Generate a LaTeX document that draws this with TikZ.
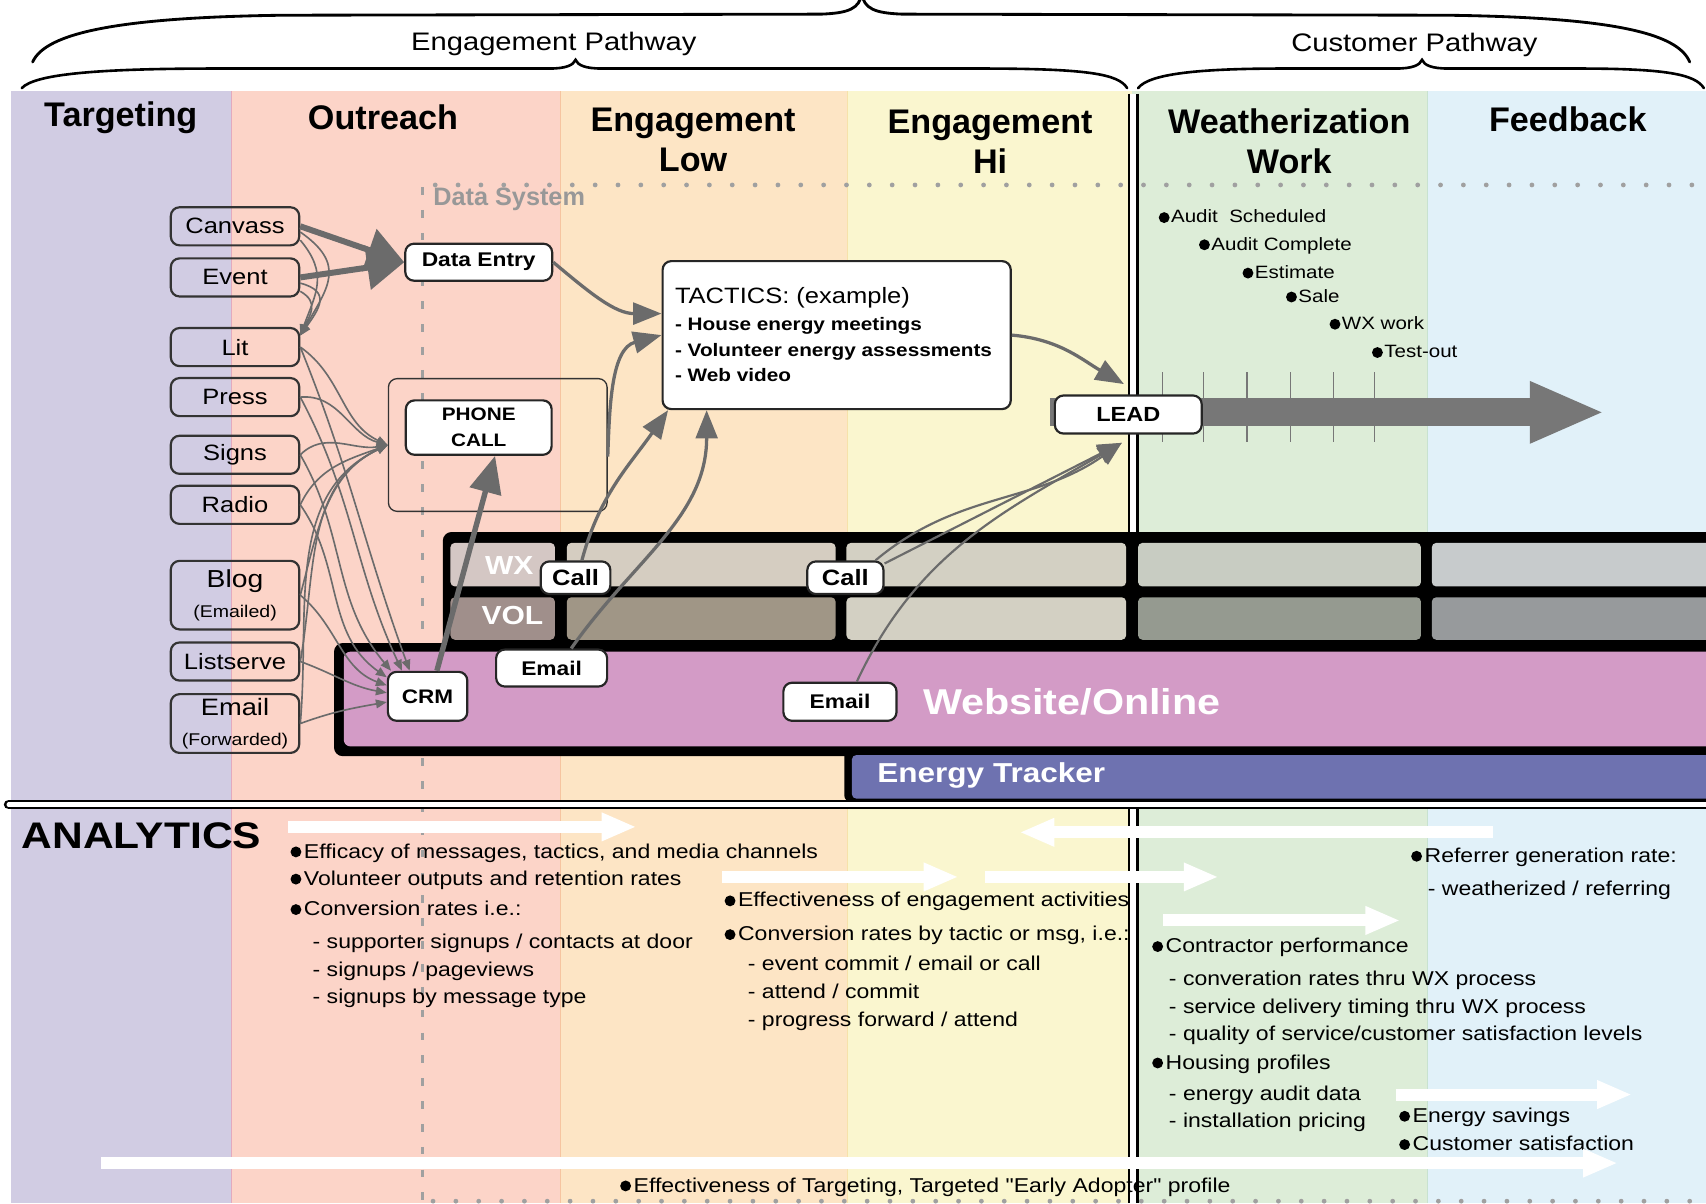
\documentclass[tikz,border=0pt]{standalone}
\usepackage{fontspec}
\setmainfont{Liberation Sans}
\newfontfamily\wf{Liberation Sans}[FakeStretch=1.15]
\usetikzlibrary{arrows.meta}

\definecolor{colTarget}{HTML}{D1CCE3}
\definecolor{colOutreach}{HTML}{FCD4C8}
\definecolor{colEngLow}{HTML}{FDE5C5}
\definecolor{colEngHi}{HTML}{FAF6CF}
\definecolor{colWork}{HTML}{DDEDD8}
\definecolor{colFeed}{HTML}{E1F1F9}
\definecolor{colArrow}{HTML}{6B6B6B}
\definecolor{colFlow}{HTML}{777777}
\definecolor{colDots}{HTML}{A0A0A0}
\definecolor{colWeb}{HTML}{D39BC6}
\definecolor{colTracker}{HTML}{6E72B0}
\definecolor{wxA}{HTML}{D4C7C4}
\definecolor{wxB}{HTML}{D5CDC1}
\definecolor{wxC}{HTML}{D3D0C3}
\definecolor{wxD}{HTML}{C8CCC2}
\definecolor{wxE}{HTML}{C7CBCC}
\definecolor{volA}{HTML}{A08F8B}
\definecolor{volB}{HTML}{A09686}
\definecolor{volC}{HTML}{D3D0C3}
\definecolor{volD}{HTML}{959A90}
\definecolor{volE}{HTML}{979A9C}

\begin{document}
\begin{tikzpicture}[x=0.5pt,y=-0.5pt,
  hdr/.style={font=\bfseries\fontsize{15.7}{18.5}\selectfont, align=center, inner sep=0},
  bracelbl/.style={font=\wf\fontsize{11.65}{14}\selectfont, inner sep=0},
  bracepath/.style={draw=black, line width=1.3pt, line cap=round},
  srcbox/.style={draw=black!80, line width=1pt, rounded corners=4pt, minimum width=59pt,
    minimum height=17.5pt, inner sep=0, font=\wf\fontsize{10.2}{12}\selectfont},
  wbox/.style={draw=black!85, fill=white, line width=1pt, rounded corners=4pt, inner sep=0,
    font=\wf\bfseries\fontsize{9.1}{11}\selectfont},
  flowin/.style={draw=colArrow, line width=2.75pt, -{Triangle[length=17pt,width=20pt]}},
  conn/.style={draw=colArrow, line width=1.5pt, -{Triangle[length=13pt,width=10pt]}},
  slimconn/.style={draw=colArrow, line width=1pt, -{Triangle[length=11pt,width=9pt]}},
  feed/.style={draw=colArrow, line width=0.75pt, -{Triangle[length=5pt,width=4pt]}},
  atxt/.style={anchor=west, inner sep=0, text height=6.6pt, text depth=0pt,
    font=\wf\fontsize{9.2}{11}\selectfont},
  mtxt/.style={anchor=west, inner sep=0, text height=5.9pt, text depth=0pt,
    font=\wf\fontsize{8.2}{10}\selectfont},
  tactxt/.style={anchor=west, inner sep=0, text height=6pt, text depth=0pt,
    font=\wf\bfseries\fontsize{8.3}{10}\selectfont},
  warrow/.style={draw=white, line width=5.5pt, -{Triangle[length=16pt,width=12pt]}},
  laneword/.style={text=white, inner sep=0, font=\wf\bfseries\fontsize{12}{14}\selectfont},
  bandword/.style={anchor=west, text=white, inner sep=0},
]
\useasboundingbox (0,0) rectangle (1568,1106);
\fill[white] (0,0) rectangle (1568,1106);

% ---- phase columns ----
\fill[colTarget]   (10,84)   rectangle (213,1106);
\fill[colOutreach] (213,84)  rectangle (515,1106);
\fill[colEngLow]   (515,84)  rectangle (779,1106);
\fill[colEngHi]    (779,84)  rectangle (1040,1106);
\fill[colWork]     (1040,84) rectangle (1312,1106);
\fill[colFeed]     (1312,84) rectangle (1568,1106);
\draw[draw={rgb,255:red,226;green,170;blue,190}, line width=0.6pt] (213,84) -- (213,1106);
\draw[draw={rgb,255:red,246;green,196;blue,160}, line width=0.6pt] (515,84) -- (515,1106);
\draw[draw={rgb,255:red,246;green,226;blue,170}, line width=0.6pt] (779,84) -- (779,1106);
\draw[draw={rgb,255:red,200;green,226;blue,208}, line width=0.6pt] (1312,84) -- (1312,1106);

% ---- data system boundary ----
\draw[colDots, line width=2.2pt, line cap=round, dash pattern=on 0pt off 10.5pt] (400,170) -- (1568,170);
\draw[colDots, line width=1.5pt, dash pattern=on 3.5pt off 7pt] (388,172) -- (388,1106);
\draw[colDots, line width=2.2pt, line cap=round, dash pattern=on 0pt off 10.5pt] (398,1104) -- (1568,1104);
\node[anchor=west, inner sep=0, text=colDots!95!black, font=\bfseries\fontsize{11.6}{13}\selectfont] (datasys) at (398,183) {Data System};

% ---- pathway divider ----
\fill[white] (1038,86) rectangle (1044,1106);
\draw[black, line width=0.75pt] (1037.5,86) -- (1037.5,1106);
\draw[black, line width=1.75pt] (1045.5,86) -- (1045.5,1106);

% ---- braces ----
\draw[bracepath] (30,57) .. controls (42,30) and (110,16) .. (260,14) -- (755,13)
  .. controls (780,12) and (790,8) .. (792,-6);
\draw[bracepath] (792,-6) .. controls (794,8) and (804,12) .. (829,13) -- (1330,14)
  .. controls (1480,16) and (1542,30) .. (1553,57);
\draw[bracepath, line width=1.2pt] (20,81) .. controls (32,68) and (90,63) .. (200,63) -- (505,63)
  .. controls (520,63) and (527,60) .. (529,55) .. controls (531,60) and (538,63) .. (553,63)
  -- (900,63) .. controls (1000,63) and (1028,68) .. (1036,81);
\draw[bracepath, line width=1.2pt] (1046,81) .. controls (1056,68) and (1100,63) .. (1180,63) -- (1283,63)
  .. controls (1298,63) and (1305,60) .. (1307,55) .. controls (1309,60) and (1316,63) .. (1331,63)
  -- (1450,63) .. controls (1530,63) and (1558,68) .. (1566,81);
\node[bracelbl] (engpath) at (509,40) {Engagement Pathway};
\node[bracelbl] (custpath) at (1300,41) {Customer Pathway};

% ---- column headers ----
\node[hdr] (htarget) at (111,108) {Targeting};
\node[hdr] (houtreach) at (352,108) {Outreach};
\node[hdr] (hlow) at (637,128.5) {Engagement\\Low};
\node[hdr] (hhi) at (910,130) {Engagement\\Hi};
\node[hdr] (hwork) at (1185,130) {Weatherization\\Work};
\node[hdr] (hfeed) at (1441,110) {Feedback};

% ---- weatherization timeline ----
\foreach \tx in {1068.6,1106.3,1146,1185.8,1225.6,1263.6}
  \draw[colFlow, line width=0.6pt] (\tx,342) -- (\tx,406);
\coordinate (flowstart) at (965,379);
\coordinate (flowend) at (1475,379);
\draw[colFlow, line width=13pt, -{Triangle[length=34.5pt,width=26pt]}] (flowstart) -- (flowend);
\foreach \bx/\by in {1070/200,1107/225,1147/251,1187/273,1227/298,1266/324}
  \fill[black] (\bx,\by) circle (5);
\node[mtxt] (m1) at (1076,199) {Audit\ \ Scheduled};
\node[mtxt] (m2) at (1113,224) {Audit Complete};
\node[mtxt] (m3) at (1153,250) {Estimate};
\node[mtxt] (m4) at (1193,272) {Sale};
\node[mtxt] (m5) at (1233,297) {WX work};
\node[mtxt] (m6) at (1272,323) {Test-out};

% ---- channel lanes ----
\fill[black, rounded corners=4pt] (407,489) rectangle (1590,599);
\fill[black, rounded corners=4pt] (307,591) rectangle (1590,695);
\fill[black, rounded corners=3pt] (776,684) rectangle (1590,737);
\fill[wxA, rounded corners=2pt] (414,499) rectangle (510,539);
\fill[wxB, rounded corners=2pt] (521,499) rectangle (768,539);
\fill[wxC, rounded corners=2pt] (778,499) rectangle (1035,539);
\fill[wxD, rounded corners=2pt] (1046,499) rectangle (1306,539);
\fill[wxE, rounded corners=2pt] (1316,499) rectangle (1590,539);
\fill[volA, rounded corners=2pt] (414,549) rectangle (510,588);
\fill[volB, rounded corners=2pt] (521,549) rectangle (768,588);
\fill[volC, rounded corners=2pt] (778,549) rectangle (1035,588);
\fill[volD, rounded corners=2pt] (1046,549) rectangle (1306,588);
\fill[volE, rounded corners=2pt] (1316,549) rectangle (1590,588);
\fill[colWeb, rounded corners=3pt] (316,599) rectangle (1590,686);
\fill[colTracker, rounded corners=2pt] (783,694) rectangle (1590,734);
\node[laneword] (wxlbl) at (468,520) {WX};
\node[laneword] (vollbl) at (471,566) {VOL};
\node[bandword, font=\wf\bfseries\fontsize{16.5}{19}\selectfont] (weblbl) at (848,645) {Website/Online};
\node[bandword, font=\wf\bfseries\fontsize{12.6}{15}\selectfont] (trackerlbl) at (806,713) {Energy Tracker};

% ---- outreach channels ----
\node[srcbox] (canvass) at (216,208) {Canvass};
\node[srcbox] (event) at (216,255) {Event};
\node[srcbox] (lit) at (216,319) {Lit};
\node[srcbox] (press) at (216,365) {Press};
\node[srcbox] (signs) at (216,418) {Signs};
\node[srcbox] (radio) at (216,464) {Radio};
\node[srcbox, minimum height=31.5pt, align=center] (blog) at (216,547)
  {{\fontsize{11.3}{13}\selectfont Blog}\\[2pt]{\fontsize{7.8}{9}\selectfont (Emailed)}};
\node[srcbox] (listserve) at (216,608) {Listserve};
\node[srcbox, minimum height=27pt, align=center] (emailfwd) at (216,665)
  {{\fontsize{10.9}{12}\selectfont Email}\\[1.5pt]{\fontsize{7.8}{9}\selectfont (Forwarded)}};

% ---- processing nodes ----
\node[wbox, minimum width=67.5pt, minimum height=17pt] (dataentry) at (440,241) {Data Entry};
\node[draw=black!80, line width=0.6pt, rounded corners=4pt, minimum width=100.5pt,
  minimum height=61pt, inner sep=0] (phonebox) at (457.5,409) {};
\node[wbox, minimum width=67pt, minimum height=25pt, align=center,
  font=\wf\bfseries\fontsize{8.3}{12}\selectfont] (phonecall) at (440,393) {PHONE\\CALL};
\node[wbox, minimum width=160pt, minimum height=68pt] (tactics) at (769,308) {};
\node[anchor=west, inner sep=0, text height=7.3pt, text depth=0pt,
  font=\wf\fontsize{10.2}{12}\selectfont] (tachead) at (620,272) {TACTICS: (example)};
\node[tactxt] (tac1) at (620,298) {- House energy meetings};
\node[tactxt] (tac2) at (620,322) {- Volunteer energy assessments};
\node[tactxt] (tac3) at (620,345) {- Web video};
\node[wbox, minimum width=67.5pt, minimum height=17.5pt,
  font=\wf\bfseries\fontsize{9.4}{11}\selectfont] (lead) at (1037,381) {LEAD};
\coordinate (leadtop) at (1033,353);
\coordinate (leadbot) at (1031,407);

\node[wbox, minimum width=32pt, minimum height=15pt,
  font=\wf\bfseries\fontsize{10.2}{12}\selectfont] (call1) at (529,531) {Call};
\node[wbox, minimum width=35pt, minimum height=15pt,
  font=\wf\bfseries\fontsize{10.2}{12}\selectfont] (call2) at (777,531) {Call};
\node[wbox, minimum width=51pt, minimum height=17pt] (email1) at (507,614) {Email};
\node[wbox, minimum width=52pt, minimum height=17.5pt] (email2) at (772,645) {Email};
\node[wbox, minimum width=36.5pt, minimum height=22.5pt,
  font=\wf\bfseries\fontsize{9}{11}\selectfont] (crm) at (393,640) {CRM};

% ---- connectors ----
\draw[flowin] (canvass.east) -- (dataentry.west);
\draw[flowin] (event.east) -- (dataentry.west);

\draw[feed] (canvass.-5) to[out=-35,in=60,looseness=1.4] (lit.10);
\draw[feed] (canvass.-12) to[out=-50,in=70,looseness=1.2] (lit.10);
\draw[feed] (event.-5) to[out=-15,in=55,looseness=1.6] (lit.10);
\draw[feed] (event.-12) to[out=-30,in=65,looseness=1.3] (lit.10);

\draw[feed] (lit.east) to[out=-35,in=155] (phonebox.west);
\draw[feed] (press.east) to[out=5,in=165] (phonebox.west);
\draw[feed] (signs.east) to[out=45,in=190] (phonebox.west);
\draw[feed] (radio.east) to[out=65,in=200] (phonebox.west);
\draw[feed] (blog.east) to[out=75,in=205] (phonebox.west);
\draw[feed] (listserve.east) to[out=80,in=205] (phonebox.west);
\draw[feed] (emailfwd.east) to[out=85,in=205] (phonebox.west);

\draw[feed] (lit.east) to[out=-68,in=110] (crm.125);
\draw[feed] (press.east) to[out=-62,in=115] (crm.135);
\draw[feed] (signs.east) to[out=-60,in=130] (crm.145);
\draw[feed] (radio.east) to[out=-55,in=145] (crm.155);
\draw[feed] (blog.east) to[out=-40,in=160] (crm.165);
\draw[feed] (listserve.east) to[out=-20,in=170] (crm.175);
\draw[feed] (emailfwd.east) to[out=20,in=190] (crm.188);

\draw[draw=colArrow, line width=2.5pt, -{Triangle[length=17pt,width=14.5pt]}] (crm.70) -- (phonecall.-60);

\draw[conn] (dataentry.east) to[out=-40,in=180] (tactics.173);
\draw[conn] (phonebox.-6) to[out=88,in=195] (tactics.west);
\draw[conn] (call1.70) to[out=75,in=235] (tactics.204);
\draw[conn] (email1.45) to[out=55,in=-90] (tactics.210);
\draw[conn] (tactics.east) to[out=-5,in=150] (leadtop);
\draw[slimconn] (call2.20) -- (leadbot);
\draw[slimconn] (call2.30) to[out=40,in=215] (leadbot);
\draw[slimconn] (email2.50) to[out=65,in=210] (leadbot);

% ---- analytics band ----
\draw[black, line width=4.5pt, line cap=round] (8,739.5) -- (1590,739.5);
\draw[white, line width=2pt, line cap=round] (8,739.5) -- (1590,739.5);
\node[inner sep=0, font=\wf\bfseries\fontsize{17}{20}\selectfont] (analytics) at (130,768) {ANALYTICS};

% bullet marks of the analytics lists
\foreach \bx/\by in {272/783,272/808,272/836,671/828,671/859,1064/870,1064/977,
  1302/787,1291/1026,1291/1052,575/1090}
  \fill[black] (\bx,\by) circle (5);

\node[atxt] (a1) at (279,782) {Efficacy of messages, tactics, and media channels};
\node[atxt] (a2) at (279,807) {Volunteer outputs and retention rates};
\node[atxt] (a3) at (279,835) {Conversion rates i.e.:};
\node[atxt] (a4) at (287,865) {- supporter signups / contacts at door};
\node[atxt] (a5) at (287,891) {- signups / pageviews};
\node[atxt] (a6) at (287,916) {- signups by message type};
\node[atxt] (b1) at (678,827) {Effectiveness of engagement activities};
\node[atxt] (b2) at (678,858) {Conversion rates by tactic or msg, i.e.:};
\node[atxt] (b3) at (687,885) {- event commit / email or call};
\node[atxt] (b4) at (687,911) {- attend / commit};
\node[atxt] (b5) at (687,937) {- progress forward / attend};
\node[atxt] (c1) at (1071,869) {Contractor performance};
\node[atxt] (c2) at (1074,899) {- converation rates thru WX process};
\node[atxt] (c3) at (1074,925) {- service delivery timing thru WX process};
\node[atxt] (c4) at (1074,950) {- quality of service/customer satisfaction levels};
\node[atxt] (c5) at (1071,976) {Housing profiles};
\node[atxt] (c6) at (1074,1005) {- energy audit data};
\node[atxt] (c7) at (1074,1030) {- installation pricing};
\node[atxt] (d1) at (1309,786) {Referrer generation rate:};
\node[atxt] (d2) at (1312,816) {- weatherized / referring};
\node[atxt] (d3) at (1298,1025) {Energy savings};
\node[atxt] (d4) at (1298,1051) {Customer satisfaction};
\node[atxt] (e1) at (582,1089) {Effectiveness of Targeting, Targeted "Early Adopter" profile};

\coordinate (w1s) at (265,760);  \coordinate (w1e) at (585,760);
\coordinate (w2s) at (1372,765); \coordinate (w2e) at (937,765);
\coordinate (w3s) at (664,806);  \coordinate (w3e) at (881,806);
\coordinate (w4s) at (905,806);  \coordinate (w4e) at (1120,806);
\coordinate (w5s) at (1069,846); \coordinate (w5e) at (1287,846);
\coordinate (w6s) at (1283,1006); \coordinate (w6e) at (1500,1006);
\coordinate (w7s) at (93,1069);  \coordinate (w7e) at (1487,1069);
\foreach \s/\e in {w1s/w1e,w2s/w2e,w3s/w3e,w4s/w4e,w5s/w5e,w6s/w6e,w7s/w7e}
  \draw[warrow] (\s) -- (\e);
\end{tikzpicture}
\end{document}
